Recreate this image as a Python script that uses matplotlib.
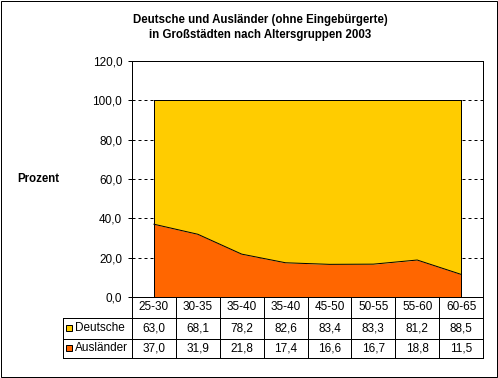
import matplotlib
matplotlib.use("Agg")
import matplotlib.pyplot as plt
import numpy as np

plt.rcParams['font.family'] = ['Liberation Sans', 'DejaVu Sans']

groups = ["25-30", "30-35", "35-40", "35-40", "45-50", "50-55", "55-60", "60-65"]
deutsche = [63.0, 68.1, 78.2, 82.6, 83.4, 83.3, 81.2, 88.5]
auslaender = [37.0, 31.9, 21.8, 17.4, 16.6, 16.7, 18.8, 11.5]
series_names = ["Deutsche", "Ausländer"]
colors = ["#FFCC00", "#FF6600"]
yticks = [0, 20, 40, 60, 80, 100, 120]

W, H = 498, 378
px = 1 / 100.0
lw = 0.72
fs = 8.5
fsb = 8.3

fig = plt.figure(figsize=(W * px, H * px), dpi=100)

# chart area border
fig.patches.append(plt.Rectangle((0.7 / W, 1.2 / H), (W - 1.6) / W, (H - 1.8) / H,
                                 transform=fig.transFigure, fill=False,
                                 edgecolor='black', linewidth=lw))

L, R, T, B = 132, 483, 61, 297
ax = fig.add_axes([L / W, (H - B) / H, (R - L) / W, (B - T) / H])

x = np.arange(len(groups)) + 0.5
a = np.array(auslaender)
d = np.array(deutsche)
ax.fill_between(x, 0, a, color=colors[1], linewidth=0, zorder=2)
ax.fill_between(x, a, a + d, color=colors[0], linewidth=0, zorder=2)
ax.plot(x, a, color='black', linewidth=lw, zorder=3)
ax.plot(x, a + d, color='black', linewidth=lw, zorder=3)
ax.plot([x[0], x[0]], [0, a[0] + d[0]], color='black', linewidth=lw, zorder=3)
ax.plot([x[-1], x[-1]], [0, a[-1] + d[-1]], color='black', linewidth=lw, zorder=3)

ax.set_xlim(0, len(groups))
ax.set_ylim(0, 120)
ax.set_yticks(yticks)
ax.set_yticklabels([f"{v:.1f}".replace('.', ',') for v in yticks], fontsize=fs)
ax.set_xticks([])
ax.tick_params(axis='y', direction='out', length=3, width=lw, pad=4)
for v in yticks[1:-1]:
    ax.axhline(v, color='black', linewidth=lw, linestyle=(0, (3, 3)), zorder=1)
for s in ax.spines.values():
    s.set_linewidth(lw)

fig.text(260 / W, 1 - 20 / H, "Deutsche und Ausländer (ohne Eingebürgerte)",
         ha='center', va='center', fontsize=fsb, fontweight='bold')
fig.text(260 / W, 1 - 35 / H, "in Großstädten nach Altersgruppen 2003",
         ha='center', va='center', fontsize=fsb, fontweight='bold')
fig.text(17 / W, 1 - 179 / H, "Prozent", ha='left', va='center',
         fontsize=fsb, fontweight='bold')

# data table
TL, TB = 63, 358
tab = fig.add_axes([TL / W, (H - TB) / H, (R - TL) / W, (TB - B) / H])
tab.set_xlim(TL, R)
tab.set_ylim(TB, B)
tab.axis('off')
rows = [B, 318, 339, TB]
cw = (R - L) / len(groups)
kw = dict(color='black', linewidth=lw, clip_on=False)
for yy in rows[1:]:
    tab.plot([TL, R], [yy, yy], **kw)
tab.plot([TL, TL], [rows[1], TB], **kw)
for i in range(len(groups) + 1):
    tab.plot([L + i * cw, L + i * cw], [B, TB], **kw)

for i, g in enumerate(groups):
    cx = L + (i + 0.5) * cw
    tab.text(cx, (rows[0] + rows[1]) / 2, g, ha='center', va='center', fontsize=fs)
    for r, vals in enumerate([deutsche, auslaender]):
        tab.text(cx, (rows[r + 1] + rows[r + 2]) / 2, f"{vals[i]:.1f}".replace('.', ','),
                 ha='center', va='center', fontsize=fs)

for r, name in enumerate(series_names):
    cy = (rows[r + 1] + rows[r + 2]) / 2
    tab.add_patch(plt.Rectangle((66, cy - 3), 6, 6, facecolor=colors[r],
                                edgecolor='black', linewidth=lw, clip_on=False))
    tab.text(75, cy, name, ha='left', va='center', fontsize=fs)

fig.savefig("out.png", dpi=100)
